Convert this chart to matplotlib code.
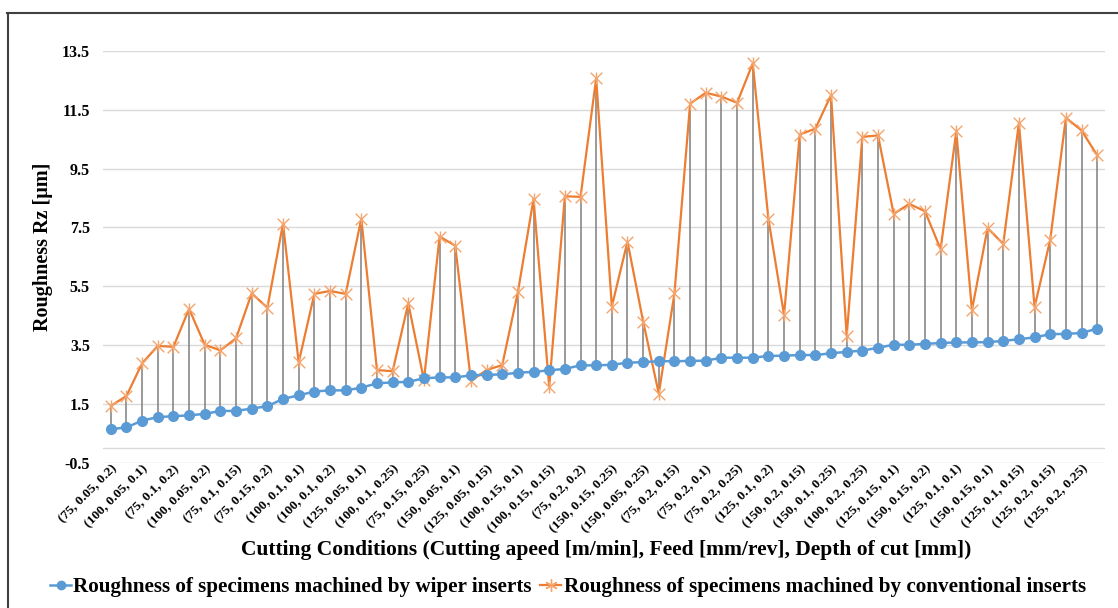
import numpy as np
import matplotlib
matplotlib.use('Agg')
import matplotlib.pyplot as plt
from matplotlib.lines import Line2D

plt.rcParams['font.family'] = ['Liberation Serif', 'DejaVu Serif']
plt.rcParams['font.weight'] = 'bold'

# Rz values per cutting condition (64 runs)
wiper = [0.64, 0.70, 0.93, 1.05, 1.08, 1.11, 1.16, 1.26, 1.26, 1.34,
         1.42, 1.67, 1.79, 1.92, 1.96, 1.96, 2.05, 2.20, 2.23, 2.25,
         2.37, 2.40, 2.40, 2.47, 2.49, 2.50, 2.56, 2.59, 2.64, 2.69,
         2.81, 2.81, 2.83, 2.90, 2.92, 2.95, 2.95, 2.96, 2.97, 3.07,
         3.07, 3.07, 3.13, 3.14, 3.16, 3.16, 3.22, 3.27, 3.31, 3.41,
         3.51, 3.51, 3.54, 3.57, 3.59, 3.59, 3.60, 3.64, 3.70, 3.76,
         3.87, 3.88, 3.91, 4.06]
conventional = [1.43, 1.77, 2.88, 3.47, 3.44, 4.73, 3.51, 3.32, 3.73, 5.26,
                4.77, 7.63, 2.91, 5.24, 5.34, 5.24, 7.80, 2.65, 2.61, 4.92,
                2.31, 7.19, 6.88, 2.28, 2.65, 2.82, 5.30, 8.47, 2.08, 8.56,
                8.54, 12.57, 4.81, 7.02, 4.30, 1.85, 5.26, 11.71, 12.08, 11.95,
                11.74, 13.08, 7.79, 4.52, 10.66, 10.86, 12.00, 3.81, 10.58, 10.63,
                7.96, 8.30, 8.05, 6.76, 10.77, 4.69, 7.48, 6.94, 11.06, 4.79,
                7.08, 11.23, 10.80, 9.95]

# labels shown on every second category
tick_labels = ['(75, 0.05, 0.2)', '(100, 0.05, 0.1)', '(75, 0.1, 0.2)', '(100, 0.05, 0.2)',
               '(75, 0.1, 0.15)', '(75, 0.15, 0.2)', '(100, 0.1, 0.1)', '(100, 0.1, 0.2)',
               '(125, 0.05, 0.1)', '(100, 0.1, 0.25)', '(75, 0.15, 0.25)', '(150, 0.05, 0.1)',
               '(125, 0.05, 0.15)', '(100, 0.15, 0.1)', '(100, 0.15, 0.15)', '(75, 0.2, 0.2)',
               '(150, 0.15, 0.25)', '(150, 0.05, 0.25)', '(75, 0.2, 0.15)', '(75, 0.2, 0.1)',
               '(75, 0.2, 0.25)', '(125, 0.1, 0.2)', '(150, 0.2, 0.15)', '(150, 0.1, 0.25)',
               '(100, 0.2, 0.25)', '(125, 0.15, 0.1)', '(150, 0.15, 0.2)', '(125, 0.1, 0.1)',
               '(150, 0.15, 0.1)', '(125, 0.1, 0.15)', '(125, 0.2, 0.15)', '(125, 0.2, 0.25)']

blue = '#5B9BD5'
orange = '#ED7D31'
orange_light = '#F4A56E'

x = np.arange(len(wiper))

fig = plt.figure(figsize=(11.18, 6.08), dpi=100)
ax = fig.add_axes([0.0921, 0.2390, 0.8963, 0.6771])

# grid and axis line at zero
yticks = np.arange(-0.5, 13.6, 2)
for yt in yticks:
    ax.axhline(yt, color='#D9D9D9', lw=1, zorder=0)
ax.axhline(0, color='#D9D9D9', lw=1, zorder=0)

# high-low lines between the two series
ax.vlines(x, wiper, conventional, color='#7F7F7F', lw=1.1, zorder=1)

ax.plot(x, conventional, color=orange, lw=1.6, zorder=2)
ax.scatter(x, conventional, marker='x', s=70, color=orange_light, lw=1.0, zorder=3)
ax.scatter(x, conventional, marker='|', s=70, color=orange_light, lw=1.0, zorder=3)

ax.plot(x, wiper, color=blue, lw=1.8, marker='o', markersize=7,
        markerfacecolor=blue, markeredgecolor=blue, zorder=4)

ax.set_xlim(-0.5, len(wiper) - 0.5)
ax.set_ylim(-0.5, 13.5)
ax.set_yticks(yticks)
ax.set_yticklabels([f'{v:.1f}' for v in yticks], fontsize=11.5, fontweight='bold')
ax.set_xticks(x[::2])
ax.set_xticklabels(tick_labels, rotation=45, ha='right', va='top',
                   rotation_mode='anchor', fontsize=9.7, fontweight='bold')
ax.tick_params(axis='both', length=0)
ax.tick_params(axis='y', pad=9.4)
ax.tick_params(axis='x', pad=0)
for s in ax.spines.values():
    s.set_visible(False)

ax.set_ylabel('Roughness Rz [μm]', fontsize=14.5, fontweight='bold')
ax.yaxis.set_label_coords(-0.050, 0.525)
fig.text(0.542, 0.096, 'Cutting Conditions (Cutting apeed [m/min], Feed [mm/rev], Depth of cut [mm])',
         ha='center', va='center', fontsize=15.5, fontweight='bold')

# legend: line with marker entries
h1 = Line2D([], [], color=blue, lw=1.8, marker='o', markersize=6)
h2 = Line2D([], [], color=orange, lw=1.6, marker=(6, 2, 0), markersize=9,
            markeredgecolor=orange_light)
fig.legend([h1, h2],
           ['Roughness of specimens machined by wiper inserts',
            'Roughness of specimens machined by conventional inserts'],
           loc='center', bbox_to_anchor=(0.508, 0.034), ncol=2, frameon=False,
           handlelength=1.0, handletextpad=0.1, columnspacing=0.4,
           prop={'weight': 'bold', 'size': 15.2})

# outer frame
fig.add_artist(Line2D([7.5 / 1118, 7.5 / 1118], [0, 1 - 13 / 608], transform=fig.transFigure,
                      color='#404040', lw=1.5))
fig.add_artist(Line2D([7 / 1118, 1], [1 - 13 / 608, 1 - 13 / 608], transform=fig.transFigure,
                      color='#404040', lw=1.5))

fig.savefig('out.png', dpi=100)
